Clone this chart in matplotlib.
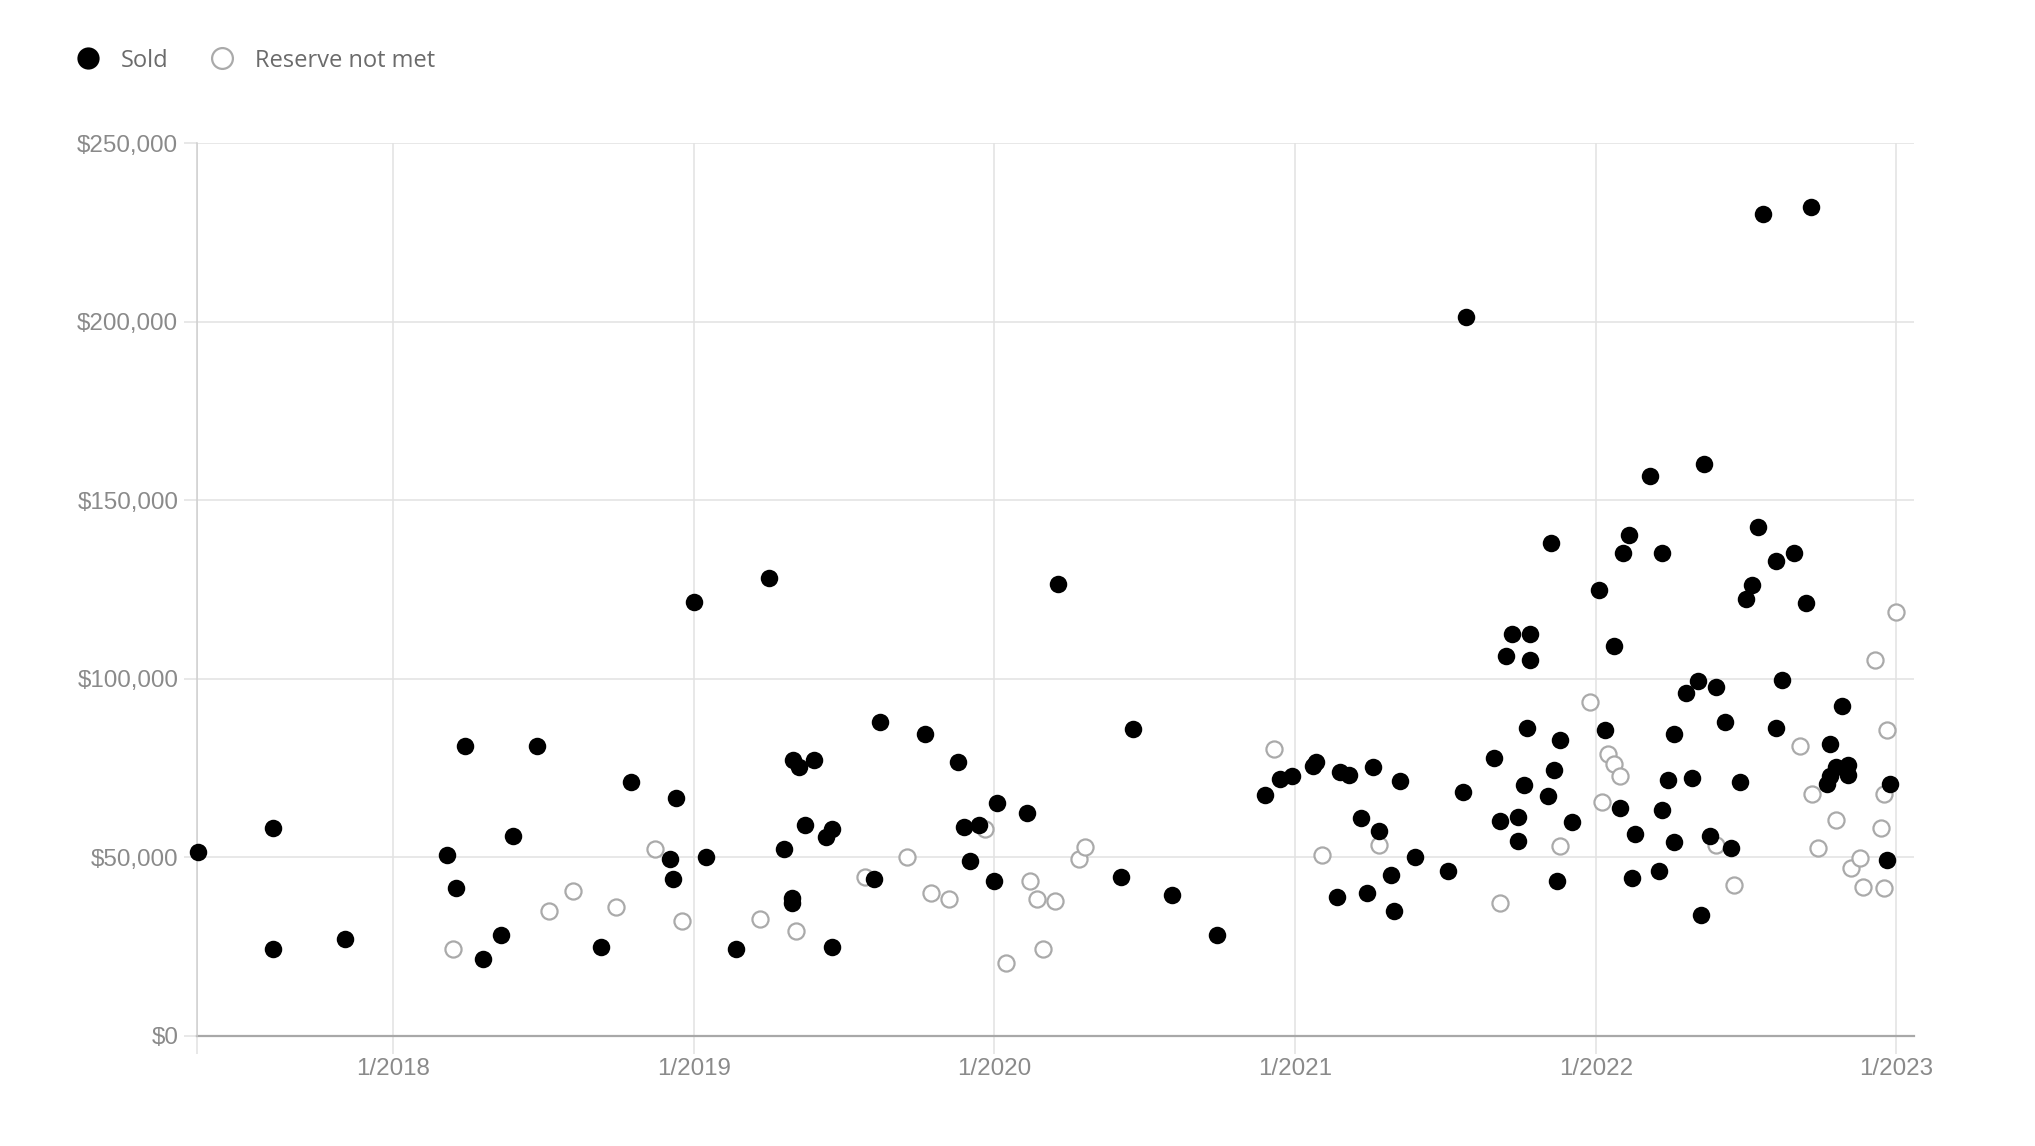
import matplotlib
matplotlib.use("Agg")
import matplotlib.pyplot as plt
from matplotlib.lines import Line2D
from matplotlib.ticker import FuncFormatter

# sale dates as decimal years, prices in thousands of dollars
sold_dates = [
    2017.35, 2017.60, 2017.60, 2017.84, 2018.18, 2018.21, 2018.24, 2018.30, 2018.36, 2018.40,
    2018.48, 2018.69, 2018.79, 2018.92, 2018.93, 2018.94, 2019.00, 2019.04, 2019.14, 2019.25,
    2019.30, 2019.326, 2019.326, 2019.33, 2019.35, 2019.37, 2019.40, 2019.44, 2019.46, 2019.46,
    2019.60, 2019.62, 2019.77, 2019.88, 2019.90, 2019.92, 2019.95, 2020.00, 2020.01, 2020.11,
    2020.21, 2020.42, 2020.46, 2020.59, 2020.74, 2020.90, 2020.95, 2020.99, 2021.06, 2021.07,
    2021.14, 2021.15, 2021.18, 2021.22, 2021.24, 2021.26, 2021.28, 2021.32, 2021.33, 2021.35,
    2021.40, 2021.51, 2021.56, 2021.57, 2021.66, 2021.68, 2021.70, 2021.72, 2021.74, 2021.74,
    2021.76, 2021.77, 2021.78, 2021.78, 2021.84, 2021.85, 2021.86, 2021.87, 2021.88, 2021.92,
    2022.01, 2022.03, 2022.06, 2022.08, 2022.09, 2022.11, 2022.12, 2022.13, 2022.18, 2022.21,
    2022.22, 2022.22, 2022.24, 2022.26, 2022.26, 2022.30, 2022.32, 2022.34, 2022.35, 2022.36,
    2022.38, 2022.40, 2022.43, 2022.45, 2022.48, 2022.50, 2022.52, 2022.54, 2022.557, 2022.60,
    2022.60, 2022.62, 2022.66, 2022.70, 2022.716, 2022.77, 2022.78, 2022.78, 2022.80, 2022.82,
    2022.84, 2022.84, 2022.97, 2022.98,
]
sold_prices = [
    51.4, 58.1, 24.3, 27.1, 50.8, 41.3, 81.1, 21.5, 28.2, 55.9,
    81.1, 24.9, 71.0, 49.6, 44.0, 66.5, 121.5, 50.2, 24.3, 128.2,
    52.4, 38.5, 37.3, 77.2, 75.3, 59.2, 77.2, 55.8, 58.0, 24.9,
    43.9, 87.8, 84.5, 76.6, 58.6, 49.1, 59.2, 43.4, 65.3, 62.5,
    126.6, 44.5, 86.0, 39.4, 28.2, 67.4, 71.9, 72.9, 75.5, 76.6,
    38.9, 73.9, 73.1, 60.9, 40.1, 75.4, 57.5, 45.1, 35.0, 71.5,
    50.2, 46.3, 68.2, 201.4, 77.8, 60.3, 106.4, 112.6, 61.4, 54.7,
    70.4, 86.3, 112.6, 105.4, 67.2, 138.0, 74.5, 43.5, 82.9, 59.8,
    124.8, 85.7, 109.2, 63.8, 135.2, 140.2, 44.1, 56.5, 156.7, 46.3,
    63.2, 135.2, 71.7, 54.2, 84.5, 96.0, 72.2, 99.3, 34.0, 160.0,
    55.9, 97.6, 88.0, 52.5, 71.1, 122.4, 126.4, 142.5, 230.0, 133.0,
    86.3, 99.8, 135.2, 121.3, 232.2, 70.5, 72.8, 81.7, 75.4, 92.5,
    75.8, 73.2, 49.2, 70.5,
]

unsold_dates = [
    2018.20, 2018.52, 2018.60, 2018.74, 2018.87, 2018.96, 2019.22, 2019.34, 2019.57, 2019.71,
    2019.79, 2019.85, 2019.97, 2020.04, 2020.12, 2020.14, 2020.16, 2020.20, 2020.28, 2020.30,
    2020.93, 2021.09, 2021.28, 2021.68, 2021.88, 2021.98, 2022.02, 2022.04, 2022.06, 2022.08,
    2022.40, 2022.46, 2022.68, 2022.72, 2022.74, 2022.80, 2022.85, 2022.88, 2022.89, 2022.93,
    2022.95, 2022.96, 2022.96, 2022.97, 2023.00,
]
unsold_prices = [
    24.4, 35.0, 40.7, 36.2, 52.4, 32.3, 32.8, 29.5, 44.6, 50.2,
    40.1, 38.4, 57.9, 20.5, 43.4, 38.4, 24.4, 37.9, 49.6, 53.0,
    80.4, 50.7, 53.6, 37.3, 53.1, 93.6, 65.5, 78.9, 76.1, 72.8,
    53.6, 42.4, 81.2, 67.7, 52.5, 60.4, 46.9, 49.7, 41.8, 105.4,
    58.2, 67.7, 41.3, 85.7, 118.8,
]

year_ticks = [2018, 2019, 2020, 2021, 2022, 2023]
year_labels = ["1/2018", "1/2019", "1/2020", "1/2021", "1/2022", "1/2023"]
price_ticks = [0, 50000, 100000, 150000, 200000, 250000]

X_MIN, X_MAX = 2017.348, 2023.058
GRID = "#e2e2e2"
TEXT = "#8a8a8a"


def make_graph(output_path):
    fig = plt.figure(figsize=(20.35, 11.46), dpi=100)
    ax = fig.add_axes([0.0968, 0.096, 0.9405 - 0.0968, 0.8752 - 0.096])

    ax.plot(unsold_dates, [p * 1000 for p in unsold_prices], "o", ms=11.6,
            mfc="white", mec="#aaaaaa", mew=1.6, clip_on=False, zorder=3)
    ax.plot(sold_dates, [p * 1000 for p in sold_prices], "o", ms=12.6,
            mfc="black", mec="black", mew=0, clip_on=False, zorder=4)

    ax.set_xlim(X_MIN, X_MAX)
    ax.set_ylim(0, 250000)

    ax.set_xticks([X_MIN] + year_ticks)
    ax.set_xticklabels([""] + year_labels)
    ax.set_yticks(price_ticks)
    ax.yaxis.set_major_formatter(FuncFormatter(lambda v, pos: "${:,.0f}".format(v)))

    ax.grid(True, color=GRID, linewidth=1.1, zorder=0)
    ax.set_axisbelow(True)
    for side in ["top", "right"]:
        ax.spines[side].set_visible(False)
    ax.spines["left"].set_color("#cfcfcf")
    ax.spines["left"].set_linewidth(1.1)
    ax.spines["bottom"].set_color("#a8a8a8")
    ax.spines["bottom"].set_linewidth(1.6)
    ax.spines["bottom"].set_zorder(2)

    ax.tick_params(axis="x", length=13, width=1.1, color=GRID, pad=2.5,
                   labelsize=17.4, labelcolor=TEXT)
    ax.tick_params(axis="y", length=9.5, width=1.1, color=GRID, pad=4,
                   labelsize=17.4, labelcolor=TEXT)
    for lbl in ax.get_xticklabels() + ax.get_yticklabels():
        lbl.set_family(["Liberation Sans", "DejaVu Sans"])

    handles = [
        Line2D([], [], ls="", marker="o", ms=16, mfc="black", mec="black", mew=0),
        Line2D([], [], ls="", marker="o", ms=15, mfc="white", mec="#aaaaaa", mew=1.6),
    ]
    leg = fig.legend(handles, ["Sold", "Reserve not met"], loc="center left",
                     bbox_to_anchor=(0.0375, 0.947), ncol=2, frameon=False,
                     handlelength=1.0, handletextpad=0.9, columnspacing=1.75,
                     borderpad=0, borderaxespad=0,
                     prop={"family": ["Open Sans", "DejaVu Sans"], "size": 17})
    for t in leg.get_texts():
        t.set_color("#6b6b6b")

    plt.savefig(output_path)


def main():
    make_graph("out.png")


if __name__ == '__main__':
    main()
